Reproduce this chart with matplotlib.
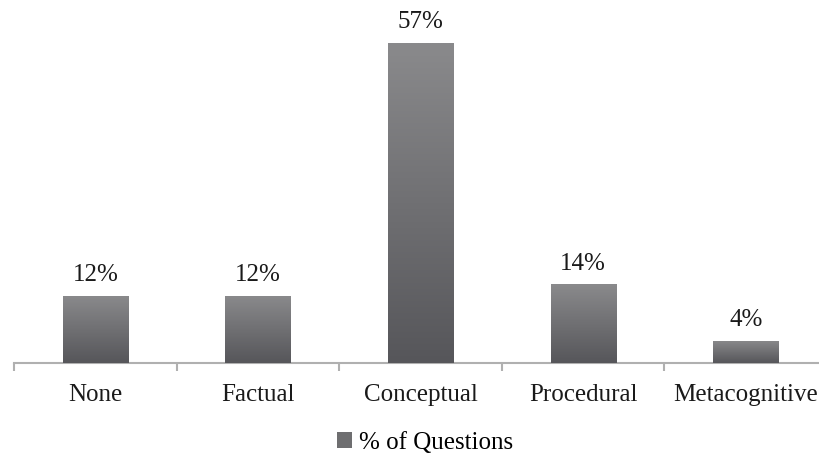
import matplotlib
matplotlib.use("Agg")
import matplotlib.pyplot as plt
import numpy as np
from matplotlib.patches import Rectangle
from matplotlib.colors import LinearSegmentedColormap

categories = ["None", "Factual", "Conceptual", "Procedural", "Metacognitive"]
values = [12, 12, 57, 14, 4]
value_labels = ["12%", "12%", "57%", "14%", "4%"]
series_name = "% of Questions"

plt.rcParams['font.family'] = ['Liberation Serif', 'DejaVu Serif']

fig = plt.figure(figsize=(8.19, 4.58), dpi=100)
ax = fig.add_axes([14/819, 1-363/458, 813/819, (363-26.2)/458])

x = np.arange(len(categories))
bars = ax.bar(x, values, width=0.40, color="#6e6e70", zorder=2, label=series_name)

# gradient fill for each bar
grad = np.linspace(0, 1, 256).reshape(-1, 1)
cmap = LinearSegmentedColormap.from_list("g", ["#56565a", "#8a8a8c"])
for b in bars:
    bx, by, bw, bh = b.get_x(), b.get_y(), b.get_width(), b.get_height()
    im = ax.imshow(grad, extent=[bx, bx + bw, by, by + bh], origin="lower",
                   aspect="auto", cmap=cmap, zorder=3)
    im.set_clip_path(b)

for xi, v, lab in zip(x, values, value_labels):
    ax.annotate(lab, (xi, v), xytext=(0, 7), textcoords="offset points",
                ha="center", va="bottom", fontsize=18, color="#1a1a1a")

ax.set_xlim(-0.5, len(categories) - 0.5)
ax.set_ylim(0, 60)
ax.set_yticks([])
for s in ["top", "right", "left"]:
    ax.spines[s].set_visible(False)
ax.spines["bottom"].set_color("#b0b0b0")
ax.spines["bottom"].set_linewidth(1.5)

ax.set_xticks(np.arange(len(categories) + 1) - 0.5, minor=False)
ax.set_xticklabels([])
ax.tick_params(axis="x", which="major", length=6, width=1.5, color="#b0b0b0")
ax.set_xticks(x, minor=True)
ax.set_xticklabels(categories, minor=True, fontsize=18, color="#1a1a1a")
ax.tick_params(axis="x", which="minor", length=0, pad=15)

ax.set_facecolor("none")

handles = [Rectangle((0, 0), 1, 1, facecolor="#6e6e70", edgecolor="none")]
fig.legend(handles, [series_name], loc="center", bbox_to_anchor=(0.519, 1-443/458),
           frameon=False, fontsize=18, handlelength=0.6, handleheight=0.6,
           handletextpad=0.3)

fig.savefig("out.png", dpi=100)
